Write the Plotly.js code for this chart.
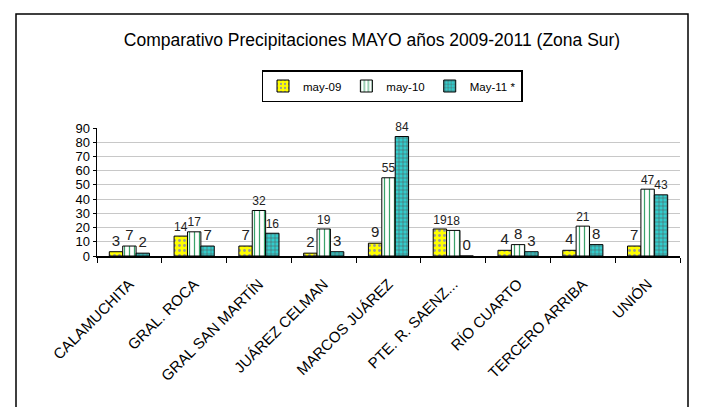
<!DOCTYPE html>
<html>
<head>
<meta charset="utf-8">
<script src="https://cdn.plot.ly/plotly-3.0.1.min.js"></script>
<style>html,body{margin:0;padding:0;background:#fff;}#chart{width:701px;height:407px;}</style>
</head>
<body>
<div id="chart"></div>
<script>
const categories = ["CALAMUCHITA","GRAL. ROCA","GRAL SAN MARTÍN","JUÁREZ CELMAN","MARCOS JUÁREZ","PTE. R. SAENZ...","RÍO CUARTO","TERCERO ARRIBA","UNIÓN"];
const may09 = [3,14,7,2,9,19,4,4,7];
const may10 = [7,17,32,19,55,18,8,21,47];
const may11 = [2,7,16,3,84,0,3,8,43];
const seriesNames = ["may-09","may-10","May-11 *"];
const yTicks = [0,10,20,30,40,50,60,70,80,90];

const font = "Liberation Sans, Arial, sans-serif";
function mk(name, vals, color, shape, fg, size){
  return {
    type:"bar", name:name, x:categories, y:vals,
    text: vals.map(String), textposition:"outside", cliponaxis:false,
    textfont:{family:font,size:15,color:"#222"},
    marker:{color:color, line:{color:"#000",width:1},
      pattern:{shape:shape, fgcolor:fg, bgcolor:color, size:size, solidity:0.25}},
    hoverinfo:"skip"
  };
}
const data = [
  mk(seriesNames[0], may09, "#FFFF00", ".", "#999", 5),
  mk(seriesNames[1], may10, "#FFFFFF", "|", "#3AA36A", 5),
  mk(seriesNames[2], may11, "#33CCCC", "+", "#555", 4)
];
const layout = {
  width:701, height:407,
  margin:{l:97, r:21, t:128, b:151},
  paper_bgcolor:"#fff", plot_bgcolor:"#fff",
  font:{family:font, color:"#000"},
  title:{text:"Comparativo Precipitaciones MAYO años 2009-2011 (Zona Sur)",
    font:{family:font,size:17.5,color:"#000"}, x:372/701, xanchor:"center", xref:"container",
    yref:"container", y:1-40/407, yanchor:"middle"},
  barmode:"group", bargap:0.38, bargroupgap:0,
  showlegend:true,
  legend:{orientation:"h", xref:"container", yref:"container",
    x:392/701, xanchor:"center", y:1-70/407, yanchor:"top",
    bordercolor:"#000", borderwidth:1.5, bgcolor:"#fff",
    font:{family:font,size:11.5,color:"#000"},
    itemwidth:30, tracegroupgap:0},
  xaxis:{type:"category", tickangle:-45, tickson:"boundaries",
    ticks:"outside", ticklen:5, tickcolor:"#000", ticklabelstandoff:12,
    showline:true, linecolor:"#000", linewidth:1.5,
    tickfont:{family:font,size:15,color:"#000"}, showgrid:false},
  yaxis:{range:[0,90], tickvals:yTicks, ticktext:yTicks.map(String),
    showgrid:true, gridcolor:"#c8c8c8", gridwidth:1,
    showline:true, linecolor:"#000", linewidth:1.5,
    ticks:"outside", ticklen:3, tickcolor:"#000",
    tickfont:{family:font,size:13,color:"#000"}, zeroline:false, fixedrange:true},
  shapes:[{type:"rect", xref:"paper", yref:"paper",
    x0:(16-97)/583, x1:(688-97)/583, y0:-2, y1:(256-14)/128,
    line:{color:"#000",width:1.5}, fillcolor:"rgba(0,0,0,0)", layer:"below"}]
};
Plotly.newPlot("chart", data, layout, {staticPlot:true, displayModeBar:false});
</script>
</body>
</html>
